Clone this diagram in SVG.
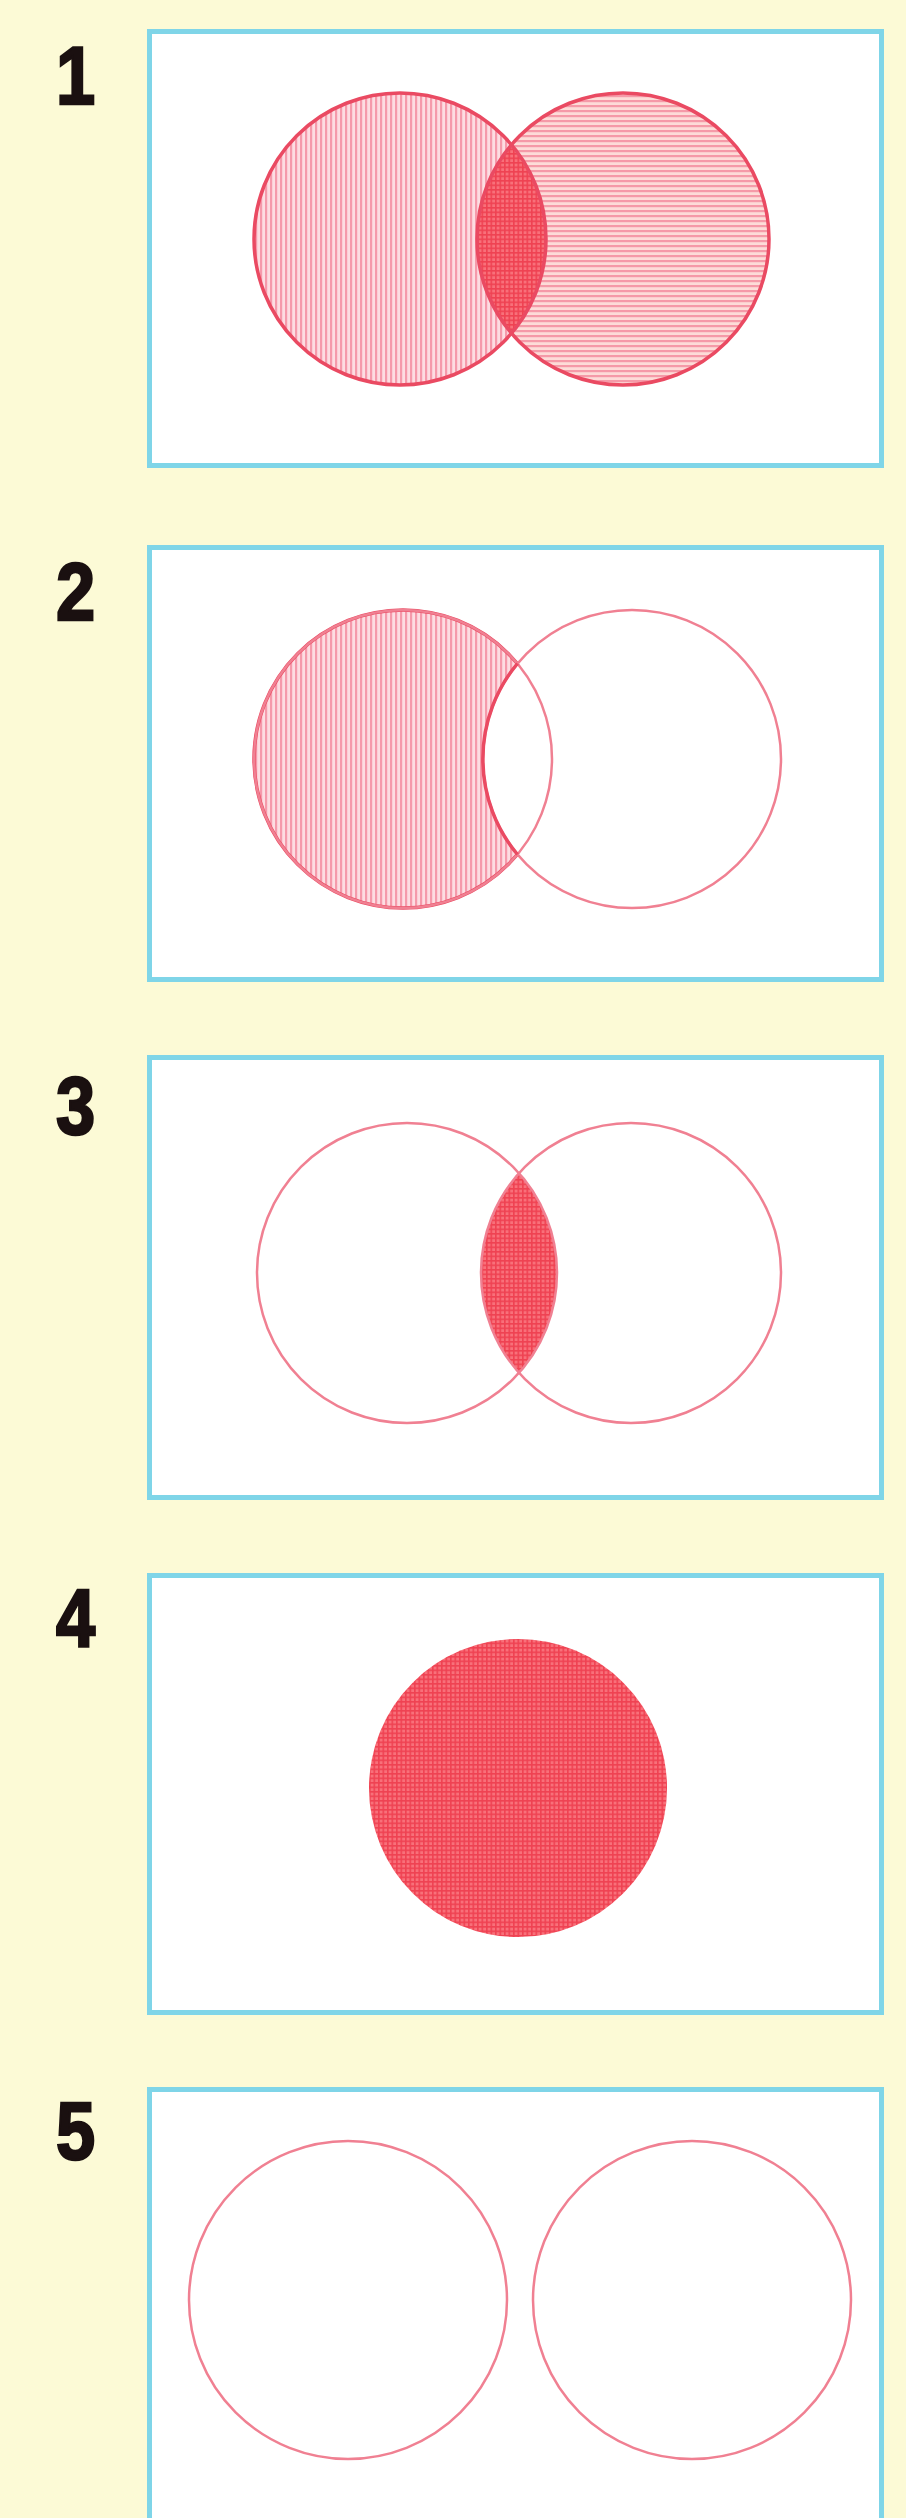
<svg xmlns="http://www.w3.org/2000/svg" width="906" height="2518" viewBox="0 0 906 2518">
<style>
.bg{fill:#fcfad6}
.frame{fill:#ffffff;stroke:#7fd5e8;stroke-width:5}
.num{font-family:"Liberation Sans",Arial,sans-serif;font-weight:bold;font-size:82px;fill:#1a1010;stroke:#1a1010;stroke-width:2.5}
.outS{fill:none;stroke:#ea4a62;stroke-width:3.5}
.outL{fill:none;stroke:#f08092;stroke-width:2.5}
.vh{fill:url(#vhatch)}
.hh{fill:url(#hhatch)}
.xh{fill:url(#xhatch)}
</style>
<defs>
<pattern id="vhatch" width="5" height="10" patternUnits="userSpaceOnUse">
<rect width="5" height="10" fill="#fddde2"/>
<rect width="2.2" height="10" fill="#f59aab"/>
</pattern>
<pattern id="hhatch" width="10" height="5" patternUnits="userSpaceOnUse">
<rect width="10" height="5" fill="#fddcd8"/>
<rect width="10" height="2.2" fill="#f59aa8"/>
</pattern>
<pattern id="xhatch" width="4.5" height="4.5" patternUnits="userSpaceOnUse">
<rect width="4.5" height="4.5" fill="#f8707a"/>
<rect width="1.6" height="4.5" fill="#ef4252"/>
<rect width="4.5" height="1.6" fill="#ef4252"/>
</pattern>
<clipPath id="c1R"><circle cx="623" cy="239" r="146"/></clipPath>
<clipPath id="c3R"><circle cx="631" cy="1273" r="150"/></clipPath>
</defs>
<rect class="bg" x="0" y="0" width="906" height="2518"/>

<g id="panel1">
<rect class="frame" x="149.5" y="31.5" width="732" height="434"/>
<text class="num" transform="translate(56 104) scale(0.86 1)">1</text>
<circle class="vh" cx="400" cy="239" r="146"/>
<circle class="hh" cx="623" cy="239" r="146"/>
<circle class="xh" cx="400" cy="239" r="146" clip-path="url(#c1R)"/>
<circle class="outS" cx="400" cy="239" r="146"/>
<circle class="outS" cx="623" cy="239" r="146"/>
</g>

<g id="panel2">
<rect class="frame" x="149.5" y="547.5" width="732" height="432"/>
<text class="num" transform="translate(56 620) scale(0.86 1)">2</text>
<circle class="vh" cx="403" cy="759" r="149"/>
<circle class="outS" cx="403" cy="759" r="149"/>
<circle fill="#ffffff" cx="632" cy="759" r="149"/>
<circle class="outL" cx="403" cy="759" r="149"/>
<circle class="outL" cx="632" cy="759" r="149"/>
<path class="outS" d="M 517.5 663.5 A 149 149 0 0 0 517.5 854.5"/>
</g>

<g id="panel3">
<rect class="frame" x="149.5" y="1057.5" width="732" height="440"/>
<text class="num" transform="translate(56 1134) scale(0.86 1)">3</text>
<circle class="xh" cx="407" cy="1273" r="150" clip-path="url(#c3R)"/>
<circle class="outL" cx="407" cy="1273" r="150"/>
<circle class="outL" cx="631" cy="1273" r="150"/>
</g>

<g id="panel4">
<rect class="frame" x="149.5" y="1575.5" width="732" height="437"/>
<text class="num" transform="translate(56 1646) scale(0.86 1)">4</text>
<circle class="xh" cx="518" cy="1788" r="149"/>
</g>

<g id="panel5">
<rect class="frame" x="149.5" y="2089.5" width="732" height="460"/>
<text class="num" transform="translate(56 2159) scale(0.86 1)">5</text>
<circle class="outL" cx="348" cy="2300" r="159"/>
<circle class="outL" cx="692" cy="2300" r="159"/>
</g>
</svg>
